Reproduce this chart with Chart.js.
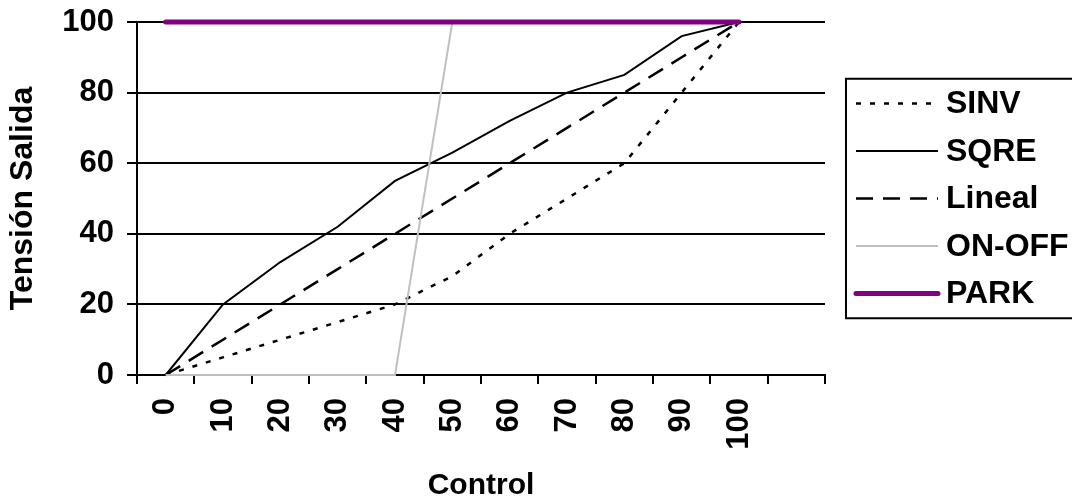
<!DOCTYPE html>
<html>
<head>
<meta charset="utf-8">
<title>Tensión Salida vs Control</title>
<script src="https://cdn.jsdelivr.net/npm/chart.js@4/dist/chart.umd.min.js"></script>
<style>
  html, body { margin: 0; padding: 0; background: #fff; }
  #wrap { width: 1072px; height: 501px; position: relative; }
</style>
</head>
<body>
<div id="wrap"><canvas id="grafico"></canvas></div>
<script>
// Datos
const controlLabels = ['0', '10', '20', '30', '40', '50', '60', '70', '80', '90', '100'];
const sinv   = [0, 5, 10, 15, 20, 28, 40, 50, 60, 80, 100];
const sqre   = [0, 20, 32, 42, 55, 63, 72, 80, 85, 96, 100];
const lineal = [0, 10, 20, 30, 40, 50, 60, 70, 80, 90, 100];
const onOff  = [0, 0, 0, 0, 0, 100, 100, 100, 100, 100, 100];
const park   = [100, 100, 100, 100, 100, 100, 100, 100, 100, 100, 100];
const yTicks = [0, 20, 40, 60, 80, 100];

const fuente = '"Liberation Sans", Arial, sans-serif';

// Leyenda dibujada a mano (caja a la derecha, como en Excel)
const leyendaPlugin = {
  id: 'leyendaCaja',
  afterDraw(chart) {
    const ctx = chart.ctx;
    const area = chart.chartArea;
    const filas = chart.data.datasets;
    const paso = 47.5;
    const alto = paso * filas.length + 2;
    const top = (area.top + area.bottom) / 2 - alto / 2;
    const left = 846;

    ctx.save();
    ctx.strokeStyle = '#000';
    ctx.lineWidth = 2;
    ctx.setLineDash([]);
    ctx.strokeRect(left, top, 260, alto);

    ctx.font = 'bold 32px ' + fuente;
    ctx.textBaseline = 'middle';
    ctx.textAlign = 'left';
    filas.forEach((ds, i) => {
      const y = top + paso / 2 + 1 + i * paso;
      ctx.beginPath();
      ctx.strokeStyle = ds.borderColor;
      ctx.lineWidth = ds.borderWidth;
      ctx.lineCap = ds.borderCapStyle || 'butt';
      ctx.setLineDash(ds.borderDash || []);
      ctx.moveTo(856, y);
      ctx.lineTo(938, y);
      ctx.stroke();
      ctx.fillStyle = '#000';
      ctx.fillText(ds.label, 946, y + 1);
    });
    ctx.restore();
  }
};

const ctx = document.getElementById('grafico').getContext('2d');
const chart = new Chart(ctx, {
  type: 'line',
  data: {
    labels: [...controlLabels, ''],
    datasets: [
      { label: 'SINV', data: sinv, borderColor: '#000', borderWidth: 2.5, borderDash: [5, 9], order: 4 },
      { label: 'SQRE', data: sqre, borderColor: '#000', borderWidth: 2, order: 3 },
      { label: 'Lineal', data: lineal, borderColor: '#000', borderWidth: 2.5, borderDash: [17, 10], order: 2 },
      { label: 'ON-OFF', data: onOff, borderColor: '#c0c0c0', borderWidth: 2, order: 1 },
      { label: 'PARK', data: park, borderColor: '#800080', borderWidth: 5, borderCapStyle: 'round', order: 0 }
    ]
  },
  options: {
    responsive: true,
    maintainAspectRatio: false,
    animation: false,
    layout: { padding: { left: 0, top: 22, right: 247, bottom: 0 } },
    elements: {
      point: { radius: 0 },
      line: { tension: 0, fill: false }
    },
    datasets: {
      line: { clip: false }
    },
    plugins: {
      legend: { display: false },
      tooltip: { enabled: false }
    },
    scales: {
      x: {
        type: 'category',
        offset: true,
        grid: {
          offset: true,
          drawOnChartArea: false,
          drawTicks: true,
          tickLength: 9,
          color: '#000',
          lineWidth: 2
        },
        border: { display: true, color: '#000', width: 2 },
        ticks: {
          color: '#000',
          font: { family: fuente, size: 31, weight: 'bold' },
          minRotation: 90,
          maxRotation: 90,
          padding: 14,
          autoSkip: false
        },
        title: {
          display: true,
          text: 'Control',
          color: '#000',
          font: { family: fuente, size: 30, weight: 'bold', lineHeight: 1 },
          padding: 0
        },
        afterFit(scale) { scale.height = 126; }
      },
      y: {
        min: 0,
        max: 100,
        afterBuildTicks(scale) { scale.ticks = yTicks.map(v => ({ value: v })); },
        grid: {
          color: '#000',
          lineWidth: 2,
          drawTicks: true,
          tickLength: 10
        },
        border: { display: true, color: '#000', width: 2 },
        ticks: {
          color: '#000',
          font: { family: fuente, size: 31, weight: 'bold' },
          padding: 13
        },
        title: {
          display: true,
          text: 'Tensión Salida',
          color: '#000',
          font: { family: fuente, size: 32, weight: 'bold', lineHeight: 1.2 },
          padding: { top: 4, bottom: 0 }
        },
        afterFit(scale) {
          scale.width = 137;
          scale.paddingTop = 0;
          scale.paddingBottom = 0;
        }
      }
    }
  },
  plugins: [leyendaPlugin]
});
</script>
</body>
</html>
